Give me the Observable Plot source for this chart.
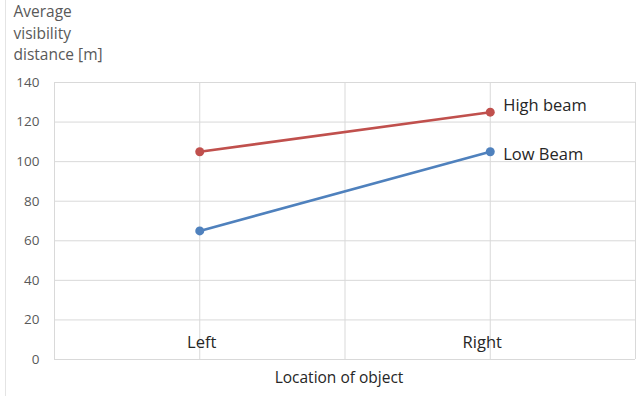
<!DOCTYPE html>
<html>
<head>
<meta charset="utf-8">
<script src="https://cdn.jsdelivr.net/npm/d3@7"></script>
<script src="https://cdn.jsdelivr.net/npm/@observablehq/plot@0.6"></script>
<style>
  body { margin: 0; background: #fff; }
  #chart svg {
    display: block;
    font-family: "Open Sans", "Liberation Sans", sans-serif;
    background: linear-gradient(to right, transparent 5px, #e4e4e4 5px, #e4e4e4 6px, transparent 6px);
  }
</style>
</head>
<body>
<div id="chart"></div>
<script>
// Object location categories and average visibility distance per headlight setting
const locations = ["Left", "Right"];
const seriesNames = ["High beam", "Low Beam"];
const highBeam = [105, 125];
const lowBeam = [65, 105];
const seriesColors = ["#C0504D", "#4F81BD"];
const yTicks = [0, 20, 40, 60, 80, 100, 120, 140];
const yTitleLines = ["Average", "visibility", "distance [m]"];
const xTitle = "Location of object";

// Long-format rows: category index on x, distance on y
const seriesValues = [highBeam, lowBeam];
const rows = seriesNames.flatMap((name, s) =>
  locations.map((loc, i) => ({series: name, loc, xi: i, value: seriesValues[s][i]}))
);
const endRows = seriesNames.map((name, s) => ({
  series: name, xi: locations.length - 1, value: seriesValues[s][locations.length - 1]
}));

// Vertical grid: category centres plus the boundaries between/around them
const xGrid = d3.range(-0.5, locations.length, 0.5);

const labelDy = {"High beam": -6, "Low Beam": 3};
const categoryDx = {"Left": 2, "Right": -8};

const chart = Plot.plot({
  width: 637,
  height: 396,
  marginLeft: 54,
  marginRight: 2,
  marginTop: 82,
  marginBottom: 37,
  style: {fontSize: "13px", color: "#595959"},
  x: {domain: [-0.5, locations.length - 0.5], axis: null},
  y: {domain: [0, 140], ticks: yTicks, label: null},
  color: {domain: seriesNames, range: seriesColors},
  marks: [
    Plot.ruleY(yTicks, {stroke: "#d9d9d9", strokeWidth: 1}),
    Plot.ruleX(xGrid, {stroke: "#d9d9d9", strokeWidth: 1}),
    Plot.axisY({ticks: yTicks, tickSize: 0, tickPadding: 15, fontSize: 13.5, fill: "#595959", label: null}),
    // category names sit just above the zero line
    ...locations.map((loc, i) =>
      Plot.text([loc], {
        x: () => i, y: () => 0, text: d => d, dy: -17, dx: categoryDx[loc],
        fontSize: 16.5, fill: "#262626"
      })
    ),
    Plot.line(rows, {x: "xi", y: "value", z: "series", stroke: "series", strokeWidth: 2.6}),
    Plot.dot(rows, {x: "xi", y: "value", fill: "series", r: 4.5, stroke: null}),
    ...seriesNames.map(name =>
      Plot.text(endRows.filter(d => d.series === name), {
        x: "xi", y: "value", text: "series", dx: 13, dy: labelDy[name],
        textAnchor: "start", fontSize: 16.5, fill: "#262626"
      })
    ),
    // multi-line y title in the top-left corner
    Plot.text([yTitleLines.join("\n")], {
      frameAnchor: "top-left", dx: -41, dy: -81, lineHeight: 1.4,
      textAnchor: "start", lineAnchor: "top", fontSize: 15.5, fill: "#595959"
    }),
    Plot.text([xTitle], {
      frameAnchor: "bottom", dx: -6, dy: 23, fontSize: 15.5, fill: "#262626"
    })
  ]
});

document.getElementById("chart").append(chart);
</script>
</body>
</html>
